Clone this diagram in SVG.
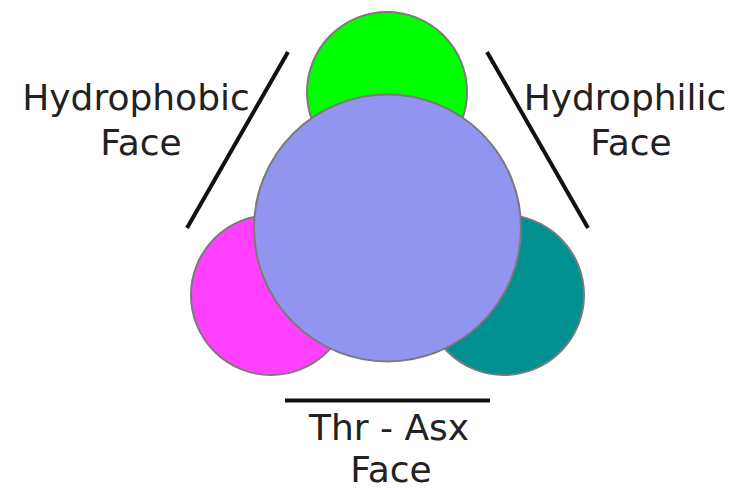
<svg xmlns="http://www.w3.org/2000/svg" width="733" height="490" viewBox="0 0 733 490">
<style>
.c{stroke:#7a7a7a;stroke-width:2}
.l{stroke:#111;stroke-width:4;stroke-linecap:butt;fill:none}
text{font-family:"DejaVu Sans",Verdana,sans-serif;font-size:36px;fill:#222;text-anchor:middle}
</style>
<rect width="733" height="490" fill="#fff"/>
<g id="green"><circle class="c" cx="387" cy="92" r="80" fill="#00ff00"/></g>
<g id="magenta"><circle class="c" cx="271" cy="295" r="80" fill="#ff40ff"/></g>
<g id="teal"><circle class="c" cx="504" cy="295" r="80" fill="#009090"/></g>
<g id="center"><circle class="c" cx="387.5" cy="228" r="133.5" fill="#9195ef"/></g>
<g id="connectors">
<line class="l" x1="288" y1="52" x2="187" y2="228"/>
<line class="l" x1="487" y1="52" x2="588" y2="228"/>
<line class="l" x1="285" y1="400.5" x2="490" y2="400.5"/>
</g>
<g id="hydrophobic"><text x="136" y="110">Hydrophobic</text><text x="141" y="155">Face</text></g>
<g id="hydrophilic"><text x="625" y="110">Hydrophilic</text><text x="631" y="155">Face</text></g>
<g id="thrasx"><text x="389" y="440">Thr - Asx</text><text x="391" y="482">Face</text></g>
</svg>
